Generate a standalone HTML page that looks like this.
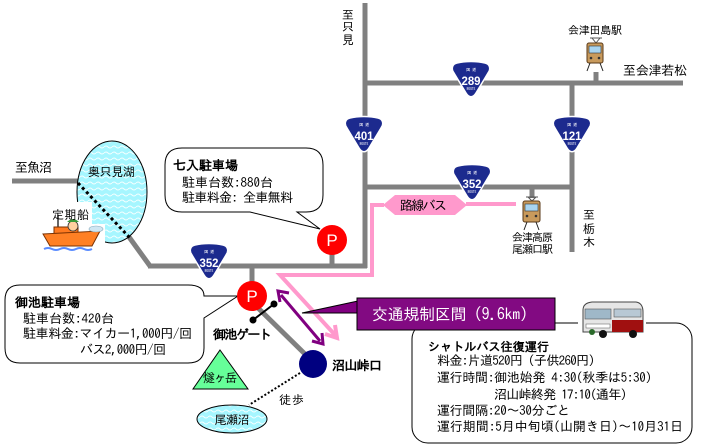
<!DOCTYPE html>
<html><head><meta charset="utf-8">
<style>
html,body{margin:0;padding:0;background:#fff;}
svg{display:block;}
text{font-family:"IPAGothic","Noto Sans CJK JP",sans-serif;fill:#000;}
.b{font-weight:bold;}
</style></head>
<body>
<svg width="701" height="446" viewBox="0 0 701 446" xmlns="http://www.w3.org/2000/svg">
<defs>
<pattern id="wave" width="8" height="6" patternUnits="userSpaceOnUse">
<rect width="8" height="6" fill="#a6f6ff"/>
<path d="M0,3 Q2,1 4,3 T8,3" stroke="#f4ffff" fill="none" stroke-width="1"/>
</pattern>
<g id="shield">
<path d="M-14,-17 C-6,-19 6,-19 14,-17 C19,-16 20,-11 17,-7 L5,13 C2,18 -2,18 -5,13 L-17,-7 C-20,-11 -19,-16 -14,-17 Z" fill="#1c2a8e" stroke="#ffffff" stroke-width="1.5"/>
</g>
</defs>

<!-- roads -->
<g stroke="#808080" stroke-width="5" fill="none">
<line x1="365" y1="3" x2="365" y2="268"/>
<line x1="148" y1="266" x2="367" y2="266"/>
<line x1="129" y1="237" x2="150" y2="266"/>
<line x1="365" y1="187" x2="574" y2="187"/>
<line x1="572" y1="83" x2="572" y2="252"/>
<line x1="365" y1="83" x2="683" y2="83"/>
<line x1="12" y1="181" x2="80" y2="181"/>
<line x1="596" y1="72" x2="596" y2="83"/>
<line x1="532" y1="187" x2="532" y2="198"/>
<line x1="332" y1="252" x2="332" y2="266"/>
<line x1="252" y1="266" x2="252" y2="284"/>
<line x1="255" y1="305" x2="308" y2="357"/>
</g>

<!-- lake -->
<ellipse cx="112" cy="192" rx="35" ry="51" fill="url(#wave)" stroke="#000" stroke-width="1"/>
<rect x="48" y="202" width="44" height="24" fill="#fff"/>
<rect x="38" y="224" width="67" height="34" fill="#fff"/>
<line x1="78" y1="183" x2="130" y2="238" stroke="#000" stroke-width="3" stroke-dasharray="3,3"/>

<!-- boat -->
<g>
<path d="M44,249 q4,-2 8,0 t8,0 t8,0 t8,0 t8,0 t8,0" stroke="#5a8cff" stroke-width="2" fill="none"/>
<line x1="58" y1="215" x2="58" y2="232" stroke="#333" stroke-width="1.5"/>
<rect x="54" y="227" width="24" height="7" fill="#ff7a20" stroke="#7a3000" stroke-width="1"/>
<polygon points="43,234 100,231 92,246 50,246" fill="#ff8024" stroke="#7a3000" stroke-width="1"/>
<circle cx="73" cy="226" r="5" fill="#ffd0a0" stroke="#333" stroke-width="0.8"/>
<path d="M67,222 q6,-6 12,0 z" fill="#3a9a3a"/>
<ellipse cx="96" cy="229" rx="7" ry="3" fill="#cfe6f2" stroke="#8ab" stroke-width="0.6"/>
</g>

<!-- pink route -->
<g stroke="#ff99cc" stroke-width="4" fill="none">
<polyline points="384,205 372,205 372,275 280,275 336,336"/>
<line x1="466" y1="204" x2="516" y2="204"/>
<polyline points="325,334 337,338 335,325"/>
</g>
<polygon points="383,205 395,195 455,195 467,205 455,215 395,215" fill="#ff99cc"/>
<text x="400" y="210" font-size="13" textLength="47">路線バス</text>

<!-- shields -->
<g>
<use href="#shield" x="209" y="262"/>
<use href="#shield" x="364" y="135"/>
<use href="#shield" x="471" y="80"/>
<use href="#shield" x="572" y="135"/>
<use href="#shield" x="472" y="183"/>
</g>
<g font-size="4" text-anchor="middle">
<text x="209" y="253" font-size="4" style="fill:#fff">国 道</text>
<text x="364" y="126" font-size="4" style="fill:#fff">国 道</text>
<text x="471" y="71" font-size="4" style="fill:#fff">国 道</text>
<text x="572" y="126" font-size="4" style="fill:#fff">国 道</text>
<text x="472" y="174" font-size="4" style="fill:#fff">国 道</text>
</g>
<g font-weight="bold" font-size="12" text-anchor="middle">
<text x="209" y="267" style="fill:#fff;font-family:'Liberation Sans',sans-serif" textLength="19" lengthAdjust="spacingAndGlyphs">352</text>
<text x="364" y="140" style="fill:#fff;font-family:'Liberation Sans',sans-serif" textLength="19" lengthAdjust="spacingAndGlyphs">401</text>
<text x="471" y="85" style="fill:#fff;font-family:'Liberation Sans',sans-serif" textLength="19" lengthAdjust="spacingAndGlyphs">289</text>
<text x="572" y="140" style="fill:#fff;font-family:'Liberation Sans',sans-serif" textLength="19" lengthAdjust="spacingAndGlyphs">121</text>
<text x="472" y="188" style="fill:#fff;font-family:'Liberation Sans',sans-serif" textLength="19" lengthAdjust="spacingAndGlyphs">352</text>
</g>
<g font-size="3.5" text-anchor="middle">
<text x="209" y="272" font-size="3.5" style="fill:#fff">ROUTE</text>
<text x="364" y="145" font-size="3.5" style="fill:#fff">ROUTE</text>
<text x="471" y="90" font-size="3.5" style="fill:#fff">ROUTE</text>
<text x="572" y="145" font-size="3.5" style="fill:#fff">ROUTE</text>
<text x="472" y="193" font-size="3.5" style="fill:#fff">ROUTE</text>
</g>

<!-- trains -->
<g>
<path d="M590,38 h12 M592,38 l4,5 l4,-5" stroke="#555" stroke-width="1" fill="none"/>
<rect x="587" y="43" width="16" height="20" rx="2" fill="#c89a5c" stroke="#5a3a18" stroke-width="1"/>
<rect x="589" y="46" width="12" height="7" fill="#a8d4f0" stroke="#333" stroke-width="0.6"/>
<circle cx="591" cy="58" r="1.3" fill="#333"/><circle cx="599" cy="58" r="1.3" fill="#333"/>
<path d="M590,63 l-3,8 M600,63 l3,8" stroke="#222" stroke-width="1"/>
</g>
<g>
<path d="M526,197 h12 M528,197 l4,4 l4,-4" stroke="#555" stroke-width="1" fill="none"/>
<rect x="523" y="201" width="17" height="21" rx="2" fill="#c89a5c" stroke="#5a3a18" stroke-width="1"/>
<rect x="525" y="204" width="13" height="7" fill="#a8d4f0" stroke="#333" stroke-width="0.6"/>
<circle cx="527" cy="216" r="1.3" fill="#333"/><circle cx="536" cy="216" r="1.3" fill="#333"/>
<path d="M527,222 l-3,8 M536,222 l3,8" stroke="#222" stroke-width="1"/>
</g>

<!-- callout 七入 -->
<path d="M182,148 H306 Q323,148 323,165 V195 Q323,212 306,212 H297 L320,229 L250,212 H182 Q165,212 165,195 V165 Q165,148 182,148 Z" fill="#fff" stroke="#000" stroke-width="1"/>
<text x="173" y="170" font-size="13" class="b" textLength="65">七入駐車場</text>
<text x="182" y="187" font-size="13" textLength="91">駐車台数:880台</text>
<text x="182" y="202" font-size="13" textLength="111">駐車料金: 全車無料</text>

<!-- callout 御池 -->
<path d="M20,285 H188 Q204,285 204,296 L238,296 L204,318 V348 Q204,363 188,363 H20 Q5,363 5,348 V300 Q5,285 20,285 Z" fill="#fff" stroke="#000" stroke-width="1"/>
<text x="15" y="307" font-size="13" class="b" textLength="65">御池駐車場</text>
<text x="23" y="323" font-size="13" textLength="91">駐車台数:420台</text>
<text x="23" y="338" font-size="13" textLength="169">駐車料金:マイカー1,000円/回</text>
<text x="80" y="354" font-size="13" textLength="86">バス2,000円/回</text>

<!-- P circles -->
<circle cx="332" cy="240" r="15" fill="#ff0000"/>
<text x="332" y="246" font-size="17" text-anchor="middle" style="fill:#fff;font-family:'Liberation Sans',sans-serif">P</text>
<circle cx="252" cy="296" r="15" fill="#ff0000"/>
<text x="252" y="302" font-size="17" text-anchor="middle" style="fill:#fff;font-family:'Liberation Sans',sans-serif">P</text>

<!-- gate -->
<line x1="253" y1="320" x2="274" y2="304" stroke="#000" stroke-width="2"/>
<circle cx="253" cy="320" r="3.5" fill="#000"/>
<circle cx="274" cy="304" r="3.5" fill="#000"/>
<text x="213" y="339" font-size="13" class="b" textLength="59">御池ゲート</text>

<!-- purple double arrow -->
<g stroke="#800080" stroke-width="3" fill="none">
<line x1="281" y1="295" x2="320" y2="341"/>
<polyline points="280,302 278,291 289,293"/>
<polyline points="312,341 323,344 322,333"/>
</g>

<!-- 沼山峠口 -->
<circle cx="313" cy="364" r="14" fill="#000080"/>
<text x="332" y="370" font-size="13" class="b" textLength="50">沼山峠口</text>

<!-- mountain -->
<polygon points="220,350 248,389 193,389" fill="#66ff99" stroke="#000" stroke-width="1"/>
<text x="220" y="382" font-size="12" text-anchor="middle" textLength="34">燧ヶ岳</text>

<!-- trail -->
<line x1="300" y1="373" x2="249" y2="405" stroke="#000" stroke-width="2" stroke-dasharray="2,2"/>
<text x="279" y="404" font-size="12" textLength="25">徒歩</text>
<ellipse cx="232" cy="419" rx="35" ry="14" fill="url(#wave)" stroke="#000" stroke-width="1"/>
<text x="232" y="424" font-size="12" text-anchor="middle" textLength="35">尾瀬沼</text>

<!-- bus callout -->
<rect x="412" y="323" width="280" height="120" rx="16" ry="16" fill="#fff" stroke="#000" stroke-width="1"/>
<text x="428" y="351" font-size="12" class="b" textLength="121">シャトルバス往復運行</text>
<text x="437" y="365" font-size="13" textLength="158">料金:片道520円 (子供260円)</text>
<text x="437" y="382" font-size="13" textLength="215">運行時間:御池始発 4:30(秋季は5:30)</text>
<text x="494" y="399" font-size="13" textLength="133">沼山峠終発 17:10(通年)</text>
<text x="437" y="415" font-size="13" textLength="133">運行間隔:20〜30分ごと</text>
<text x="437" y="431" font-size="13" textLength="246">運行期間:5月中旬頃(山開き日)〜10月31日</text>

<!-- purple callout -->
<polygon points="302,313 358,301 358,313" fill="#800080" stroke="#000" stroke-width="1"/>
<rect x="357" y="298" width="198" height="32" fill="#820a82" stroke="#000" stroke-width="1"/>
<text x="372" y="320" font-size="16" textLength="156" style="fill:#fff">交通規制区間 (9.6km)</text>

<!-- bus -->
<g>
<rect x="578" y="299" width="68" height="40" fill="#fff"/>
<path d="M583,332 V310 Q583,303 592,302 H636 Q643,303 643,312 V332 Z" fill="#e6e6e6" stroke="#444" stroke-width="1"/>
<rect x="585" y="309" width="26" height="10" fill="#9fb8c8" stroke="#555" stroke-width="0.6"/>
<rect x="614" y="309" width="27" height="8" fill="#b8c8d4" stroke="#555" stroke-width="0.6"/>
<path d="M612,320 H643 V332 H612 Z" fill="#a01010"/>
<rect x="586" y="324" width="24" height="4" fill="#fff" stroke="#555" stroke-width="0.5"/>
<circle cx="603" cy="334" r="4" fill="#111"/>
<circle cx="633" cy="334" r="4" fill="#111"/>
<circle cx="592" cy="332" r="3" fill="#2a6a2a"/>
</g>

<!-- labels -->
<text x="15" y="172" font-size="13" textLength="37">至魚沼</text>
<text x="88" y="176" font-size="12" textLength="47">奥只見湖</text>
<text x="52" y="219" font-size="12" textLength="37">定期船</text>
<g font-size="12" text-anchor="middle">
<text x="348" y="19">至</text>
<text x="348" y="31">只</text>
<text x="348" y="44">見</text>
<text x="589" y="219">至</text>
<text x="589" y="233">栃</text>
<text x="589" y="246">木</text>
</g>
<text x="568" y="34" font-size="11" textLength="54">会津田島駅</text>
<text x="623" y="75" font-size="13" textLength="64">至会津若松</text>
<text x="512" y="241" font-size="11" textLength="41">会津高原</text>
<text x="512" y="253" font-size="11" textLength="41">尾瀬口駅</text>
</svg>
</body></html>
